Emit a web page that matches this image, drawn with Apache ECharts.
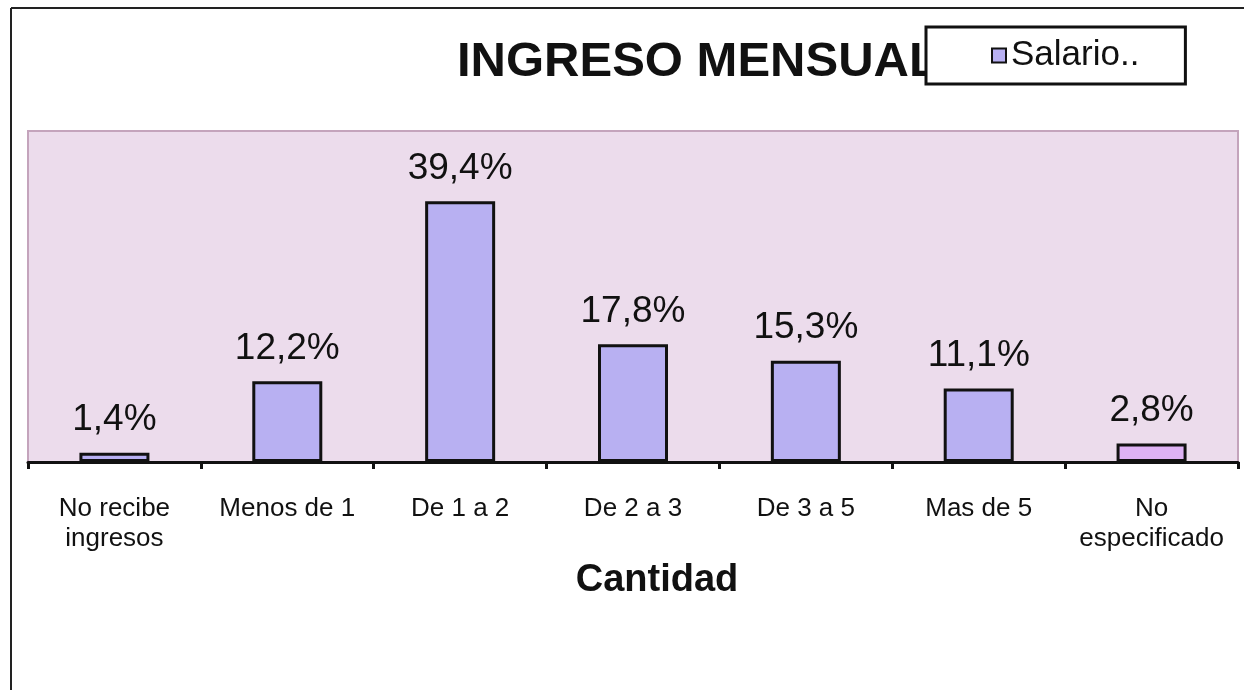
<!DOCTYPE html>
<html>
<head>
<meta charset="utf-8">
<title>Ingreso mensual</title>
<script src="https://cdn.jsdelivr.net/npm/echarts@6/dist/echarts.min.js"></script>
<style>
    html, body { margin: 0; padding: 0; background: #fff; }
    #chart { width: 1244px; height: 690px; }
</style>
</head>
<body>
<div id="chart"></div>
<script>
// datos del grafico
var categorias = ['No recibe\ningresos', 'Menos de 1', 'De 1 a 2', 'De 2 a 3', 'De 3 a 5', 'Mas de 5', 'No\nespecificado'];
var porcentajes = [1.4, 12.2, 39.4, 17.8, 15.3, 11.1, 2.8];
var colores = ['#b8b0f2', '#b8b0f2', '#b8b0f2', '#b8b0f2', '#b8b0f2', '#b8b0f2', '#deb2f4'];

var fuente = '"Liberation Sans", Arial, sans-serif';

var chart = echarts.init(document.getElementById('chart'));

var datos = porcentajes.map(function (v, i) {
    return { value: v, itemStyle: { color: colores[i] } };
});

var option = {
    backgroundColor: '#fff',
    animation: false,
    title: {
        text: 'INGRESO MENSUAL',
        left: 452,
        top: 33,
        textStyle: { fontFamily: fuente, fontSize: 49, fontWeight: 'bold', color: '#111' }
    },
    legend: {
        data: ['Salario..'],
        left: 926,
        top: 27,
        z: 10,
        padding: [11, 46, 11, 65],
        backgroundColor: '#fff',
        borderColor: '#111',
        borderWidth: 3,
        icon: 'rect',
        itemWidth: 14,
        itemHeight: 14,
        itemGap: 5,
        itemStyle: { borderColor: '#111', borderWidth: 2 },
        textStyle: { fontFamily: fuente, fontSize: 35, color: '#111' }
    },
    grid: {
        left: 28,
        right: 6,
        top: 131,
        bottom: 228,
        show: true,
        backgroundColor: '#ecdcec',
        borderColor: '#c4a4bc',
        borderWidth: 2
    },
    xAxis: {
        type: 'category',
        data: categorias,
        name: 'Cantidad',
        nameLocation: 'middle',
        nameGap: 100,
        nameTextStyle: { fontFamily: fuente, fontSize: 38, fontWeight: 'bold', color: '#111', padding: [0, 0, 0, 48] },
        axisLine: { lineStyle: { color: '#111', width: 3 } },
        axisTick: { show: true, length: 7, lineStyle: { color: '#111', width: 3 } },
        axisLabel: { fontFamily: fuente, fontSize: 26, lineHeight: 30, color: '#111', margin: 32, interval: 0 }
    },
    yAxis: {
        type: 'value',
        min: 0,
        max: 50,
        show: false,
        splitLine: { show: false }
    },
    series: [{
        name: 'Salario..',
        type: 'bar',
        barWidth: 70,
        data: datos,
        itemStyle: { color: '#b8b0f2', borderColor: '#111', borderWidth: 3 },
        label: {
            show: true,
            position: 'top',
            distance: 14,
            fontFamily: fuente,
            fontSize: 37,
            color: '#111',
            formatter: function (p) {
                return p.value.toFixed(1).replace('.', ',') + '%';
            }
        }
    }],
    graphic: [
        { type: 'line', shape: { x1: 11, y1: 8, x2: 11, y2: 690 }, style: { stroke: '#222', lineWidth: 2 } },
        { type: 'line', shape: { x1: 11, y1: 8, x2: 1244, y2: 8 }, style: { stroke: '#222', lineWidth: 2 } }
    ]
};

chart.setOption(option);
</script>
</body>
</html>
